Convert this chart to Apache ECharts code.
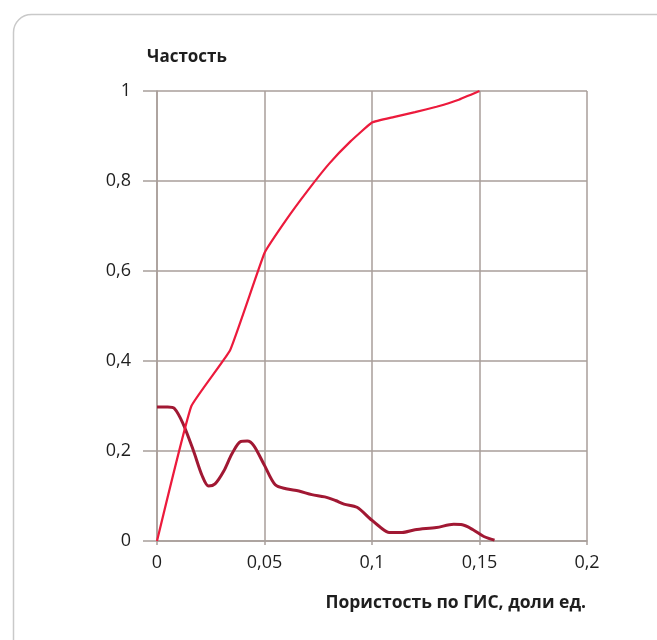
<!DOCTYPE html>
<html>
<head>
<meta charset="utf-8">
<script src="https://cdn.jsdelivr.net/npm/echarts@6/dist/echarts.min.js"></script>
<style>
  html, body { margin: 0; padding: 0; background: #ffffff; }
  #chart { width: 657px; height: 640px; }
</style>
</head>
<body>
<div id="chart"></div>
<script>
// Porosity (fraction of unit) — x values are stored per series
var cumulativeX = [0, 0.016, 0.034, 0.05, 0.06, 0.07, 0.08, 0.09, 0.1, 0.11, 0.12, 0.13, 0.14, 0.15];
var cumulativeY = [0, 0.300, 0.424, 0.640, 0.713, 0.778, 0.838, 0.888, 0.930, 0.942, 0.953, 0.965, 0.980, 1.0];

var frequencyX = [0, 0.005, 0.008, 0.012, 0.017, 0.021, 0.024, 0.027, 0.031, 0.035, 0.039, 0.042, 0.045,
                  0.05, 0.055, 0.06, 0.066, 0.072, 0.078, 0.083, 0.087, 0.093, 0.099, 0.104, 0.108,
                  0.114, 0.12, 0.13, 0.138, 0.142, 0.147, 0.152, 0.157];
var frequencyY = [0.298, 0.298, 0.295, 0.262, 0.200, 0.145, 0.122, 0.127, 0.155, 0.195, 0.221, 0.222, 0.212,
                  0.168, 0.125, 0.116, 0.111, 0.103, 0.098, 0.090, 0.082, 0.075, 0.050, 0.030, 0.019,
                  0.019, 0.025, 0.030, 0.037, 0.036, 0.025, 0.010, 0.002];

var xTickLabels = ['0', '0,05', '0,1', '0,15', '0,2'];
var yTickLabels = ['0', '0,2', '0,4', '0,6', '0,8', '1'];

function pairs(xs, ys) {
  return xs.map(function (x, i) { return [x, ys[i]]; });
}

var gridColor = '#a89e9a';
var textColor = '#1e1e1e';
var fontFamily = '"Open Sans", "Noto Sans", sans-serif';

var chart = echarts.init(document.getElementById('chart'), null, { renderer: 'canvas' });

chart.setOption({
  backgroundColor: '#ffffff',
  animation: false,
  graphic: [{
    type: 'rect',
    left: 11,
    top: 12,
    shape: { width: 720, height: 720, r: 18 },
    style: { fill: 'none', stroke: '#c9c9c9', lineWidth: 1.5 },
    silent: true,
    z: -10
  }],
  title: [{
    text: 'Частость',
    left: 147,
    top: 49,
    padding: 0,
    textStyle: { fontFamily: fontFamily, fontWeight: 'bold', fontSize: 17, color: textColor }
  }, {
    text: 'Пористость по ГИС, доли ед.',
    right: 71,
    top: 594,
    padding: 0,
    textStyle: { fontFamily: fontFamily, fontWeight: 'bold', fontSize: 17.5, color: textColor }
  }],
  grid: { left: 157, right: 70, top: 91, bottom: 99, containLabel: false },
  xAxis: {
    type: 'value',
    min: 0,
    max: 0.2,
    interval: 0.05,
    axisLine: { show: true, onZero: false, lineStyle: { color: gridColor, width: 1.5 } },
    axisTick: { show: true, length: 4, lineStyle: { color: gridColor, width: 1.5 } },
    splitLine: { show: true, lineStyle: { color: gridColor, width: 1.5 } },
    axisLabel: {
      margin: 13,
      fontFamily: fontFamily,
      fontSize: 18,
      color: textColor,
      formatter: function (v) { return xTickLabels[Math.round(v / 0.05)]; }
    }
  },
  yAxis: {
    type: 'value',
    min: 0,
    max: 1,
    interval: 0.2,
    axisLine: { show: true, lineStyle: { color: gridColor, width: 1.5 } },
    axisTick: { show: true, length: 14, lineStyle: { color: gridColor, width: 1.5 } },
    splitLine: { show: true, lineStyle: { color: gridColor, width: 1.5 } },
    axisLabel: {
      margin: 26,
      fontFamily: fontFamily,
      fontSize: 18,
      color: textColor,
      formatter: function (v) { return yTickLabels[Math.round(v / 0.2)]; }
    }
  },
  series: [{
    name: 'Частость',
    type: 'line',
    data: pairs(frequencyX, frequencyY),
    smooth: 0.3,
    showSymbol: false,
    lineStyle: { color: '#a11833', width: 3 },
    z: 3
  }, {
    name: 'Накопленная частость',
    type: 'line',
    data: pairs(cumulativeX, cumulativeY),
    smooth: 0.1,
    showSymbol: false,
    lineStyle: { color: '#ec1a3c', width: 2.2 },
    z: 4
  }]
});
</script>
</body>
</html>
